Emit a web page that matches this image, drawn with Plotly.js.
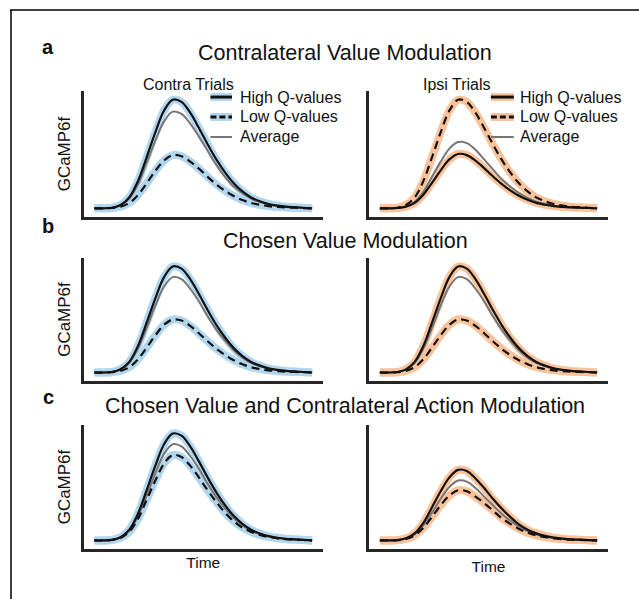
<!DOCTYPE html>
<html>
<head>
<meta charset="utf-8">
<script src="https://cdn.plot.ly/plotly-3.0.1.min.js"></script>
<style>html,body{margin:0;padding:0;background:#fff}#chart{width:639px;height:599px}</style>
</head>
<body>
<div id="chart"></div>
<script>
// ---- data (arbitrary units) ----
const t = [0,4,8,12,16,20,24,28,32,36,40,44,48,52,56,60,64,68,72,76,80,84,88,92,96,100];

// Row a: Contralateral Value Modulation
const aContraHigh = [0,0,0.005,0.03,0.1,0.25,0.47,0.7,0.9,1.0,0.98,0.88,0.74,0.59,0.45,0.33,0.23,0.155,0.1,0.065,0.04,0.025,0.015,0.01,0.005,0];
const aContraLow  = [0,0,0.003,0.015,0.049,0.122,0.23,0.345,0.44,0.49,0.48,0.43,0.365,0.29,0.22,0.162,0.113,0.076,0.049,0.032,0.02,0.012,0.007,0.005,0.002,0];
const aContraAvg  = [0,0,0.004,0.027,0.089,0.22,0.42,0.62,0.8,0.89,0.87,0.78,0.66,0.53,0.4,0.29,0.2,0.14,0.09,0.058,0.036,0.022,0.013,0.009,0.004,0];
const aIpsiHigh   = [0,0,0.003,0.015,0.05,0.125,0.235,0.35,0.45,0.5,0.49,0.44,0.37,0.295,0.225,0.165,0.115,0.078,0.05,0.033,0.02,0.013,0.008,0.005,0.003,0];
const aIpsiLow    = [0,0,0.005,0.03,0.1,0.25,0.47,0.7,0.9,1.0,0.98,0.88,0.74,0.59,0.45,0.33,0.23,0.155,0.1,0.065,0.04,0.025,0.015,0.01,0.005,0];
const aIpsiAvg    = [0,0,0.003,0.018,0.061,0.15,0.29,0.43,0.55,0.61,0.6,0.54,0.45,0.36,0.27,0.2,0.14,0.095,0.061,0.04,0.024,0.015,0.009,0.006,0.003,0];

// Row b: Chosen Value Modulation
const bContraHigh = [0,0,0.005,0.03,0.1,0.25,0.47,0.7,0.9,1.0,0.98,0.88,0.74,0.59,0.45,0.33,0.23,0.155,0.1,0.065,0.04,0.025,0.015,0.01,0.005,0];
const bContraLow  = [0,0,0.003,0.015,0.05,0.125,0.235,0.35,0.45,0.5,0.49,0.44,0.37,0.295,0.225,0.165,0.115,0.078,0.05,0.033,0.02,0.013,0.008,0.005,0.003,0];
const bContraAvg  = [0,0,0.005,0.027,0.09,0.225,0.42,0.63,0.81,0.9,0.88,0.79,0.67,0.53,0.405,0.3,0.21,0.14,0.09,0.06,0.036,0.023,0.014,0.009,0.005,0];
const bIpsiHigh   = [0,0,0.005,0.03,0.1,0.25,0.47,0.7,0.9,1.0,0.98,0.88,0.74,0.59,0.45,0.33,0.23,0.155,0.1,0.065,0.04,0.025,0.015,0.01,0.005,0];
const bIpsiLow    = [0,0,0.003,0.015,0.05,0.125,0.235,0.35,0.45,0.5,0.49,0.44,0.37,0.295,0.225,0.165,0.115,0.078,0.05,0.033,0.02,0.013,0.008,0.005,0.003,0];
const bIpsiAvg    = [0,0,0.005,0.027,0.09,0.225,0.42,0.63,0.81,0.9,0.88,0.79,0.67,0.53,0.405,0.3,0.21,0.14,0.09,0.06,0.036,0.023,0.014,0.009,0.005,0];

// Row c: Chosen Value and Contralateral Action Modulation
const cContraHigh = [0,0,0.005,0.03,0.1,0.25,0.47,0.7,0.9,1.0,0.98,0.88,0.74,0.59,0.45,0.33,0.23,0.155,0.1,0.065,0.04,0.025,0.015,0.01,0.005,0];
const cContraLow  = [0,0,0.004,0.024,0.08,0.2,0.38,0.56,0.72,0.8,0.78,0.7,0.59,0.47,0.36,0.26,0.18,0.12,0.08,0.052,0.032,0.02,0.012,0.008,0.004,0];
const cContraAvg  = [0,0,0.005,0.027,0.09,0.225,0.42,0.63,0.81,0.9,0.88,0.79,0.67,0.53,0.405,0.3,0.21,0.14,0.09,0.06,0.036,0.023,0.014,0.009,0.005,0];
const cIpsiHigh   = [0,0,0.003,0.02,0.066,0.165,0.31,0.46,0.59,0.66,0.65,0.58,0.49,0.39,0.3,0.22,0.15,0.1,0.066,0.043,0.026,0.017,0.01,0.007,0.003,0];
const cIpsiLow    = [0,0,0.002,0.014,0.047,0.118,0.22,0.33,0.42,0.47,0.46,0.41,0.35,0.28,0.21,0.155,0.108,0.073,0.047,0.031,0.019,0.012,0.007,0.005,0.002,0];
const cIpsiAvg    = [0,0,0.003,0.017,0.056,0.14,0.26,0.39,0.5,0.56,0.55,0.49,0.41,0.33,0.25,0.185,0.13,0.087,0.056,0.036,0.022,0.014,0.008,0.006,0.003,0];

const rowLetters = ['a','b','c'];
const rowTitles = ['Contralateral Value Modulation','Chosen Value Modulation','Chosen Value and Contralateral Action Modulation'];
const colTitles = ['Contra Trials','Ipsi Trials'];
const legendLabels = ['High Q-values','Low Q-values','Average'];
const yLabel = 'GCaMP6f';
const xLabel = 'Time';

// ---- styling / layout ----
const W = 639, H = 599;
const px = v => v / W;
const py = v => 1 - v / H;
const BLUE = '#b2d6ee', ORANGE = '#fbc39c', GRAY = '#767676', BLACK = '#111111';
const FONT = 'Liberation Sans, Arial, sans-serif';

const colDom = [[px(83.5), px(323)], [px(369), px(608)]];
const rowBox = [[91, 217], [258, 381], [425, 549]];

const panels = [
  [[aContraHigh, aContraLow, aContraAvg], [aIpsiHigh, aIpsiLow, aIpsiAvg]],
  [[bContraHigh, bContraLow, bContraAvg], [bIpsiHigh, bIpsiLow, bIpsiAvg]],
  [[cContraHigh, cContraLow, cContraAvg], [cIpsiHigh, cIpsiLow, cIpsiAvg]]
];

const traces = [];
const layout = {
  width: W, height: H,
  margin: {l: 0, r: 0, t: 0, b: 0},
  paper_bgcolor: '#fff', plot_bgcolor: 'rgba(0,0,0,0)',
  showlegend: false,
  font: {family: FONT, color: '#111'},
  shapes: [], annotations: []
};

let k = 0;
for (let r = 0; r < 3; r++) {
  for (let c = 0; c < 2; c++) {
    k++;
    const xa = 'x' + (k === 1 ? '' : k), ya = 'y' + (k === 1 ? '' : k);
    const xKey = 'xaxis' + (k === 1 ? '' : k), yKey = 'yaxis' + (k === 1 ? '' : k);
    const band = c === 0 ? BLUE : ORANGE;
    const [hi, lo, avg] = panels[r][c];
    const common = {x: t, xaxis: xa, yaxis: ya, mode: 'lines', hoverinfo: 'skip'};
    traces.push(Object.assign({}, common, {y: hi, line: {shape: 'spline', color: band, width: 8}}));
    traces.push(Object.assign({}, common, {y: lo, line: {shape: 'spline', color: band, width: 8}}));
    traces.push(Object.assign({}, common, {y: avg, line: {shape: 'spline', color: GRAY, width: 2}}));
    traces.push(Object.assign({}, common, {y: hi, line: {shape: 'spline', color: BLACK, width: 2.2}}));
    traces.push(Object.assign({}, common, {y: lo, line: {shape: 'spline', color: BLACK, width: 2.2, dash: '8px,5px'}}));

    layout[xKey] = {
      domain: colDom[c], anchor: ya, range: [-5, 105],
      showline: true, linecolor: '#262626', linewidth: 3,
      showgrid: false, zeroline: false, showticklabels: false, ticks: '',
      fixedrange: true
    };
    layout[yKey] = {
      domain: [py(rowBox[r][1]), py(rowBox[r][0])], anchor: xa, range: [-0.08, 1.08],
      showline: true, linecolor: '#262626', linewidth: 3,
      showgrid: false, zeroline: false, showticklabels: false, ticks: '',
      fixedrange: true
    };
    if (c === 0) {
      layout[yKey].title = {text: yLabel, font: {size: 17, family: FONT, color: '#111'}, standoff: 6};
    }
    if (r === 2) {
      layout[xKey].title = {text: xLabel, font: {size: 15.5, family: FONT, color: '#111'}, standoff: c === 0 ? 7 : 11};
    }
    // legend (row a only)
    if (r === 0) {
      const lx0 = c === 0 ? 0.53 : 0.51, lx1 = c === 0 ? 0.62 : 0.606, tx = c === 0 ? 0.645 : 0.625;
      const ly = [0.952, 0.794, 0.635];
      const xd = xa + ' domain', yd = ya + ' domain';
      for (let i = 0; i < 3; i++) {
        if (i < 2) {
          layout.shapes.push({type: 'line', xref: xd, yref: yd, x0: lx0, x1: lx1, y0: ly[i], y1: ly[i], line: {color: band, width: 8}});
          layout.shapes.push({type: 'line', xref: xd, yref: yd, x0: lx0, x1: lx1, y0: ly[i], y1: ly[i], line: {color: BLACK, width: 3, dash: i === 1 ? '6px,3px' : 'solid'}});
        } else {
          layout.shapes.push({type: 'line', xref: xd, yref: yd, x0: lx0, x1: lx1, y0: ly[i], y1: ly[i], line: {color: GRAY, width: 2}});
        }
        layout.annotations.push({xref: xd, yref: yd, x: tx, y: ly[i], text: legendLabels[i], showarrow: false,
          xanchor: 'left', yanchor: 'middle', font: {size: 16, family: FONT, color: '#111'}});
      }
    }
  }
  // row letters and titles
  const letterY = [47, 226, 397][r];
  const titleY = [53, 241, 406][r];
  layout.annotations.push({xref: 'paper', yref: 'paper', x: px(48), y: py(letterY), text: '<b>' + rowLetters[r] + '</b>',
    showarrow: false, xanchor: 'center', yanchor: 'middle', font: {size: 20, family: FONT, color: '#111'}});
  layout.annotations.push({xref: 'paper', yref: 'paper', x: px(345), y: py(titleY), text: rowTitles[r],
    showarrow: false, xanchor: 'center', yanchor: 'middle', font: {size: 21.5, family: FONT, color: '#111'}});
}
// column titles
layout.annotations.push({xref: 'paper', yref: 'paper', x: px(188), y: py(84), text: colTitles[0], showarrow: false,
  xanchor: 'center', yanchor: 'middle', font: {size: 16, family: FONT, color: '#111'}});
layout.annotations.push({xref: 'paper', yref: 'paper', x: px(457), y: py(84), text: colTitles[1], showarrow: false,
  xanchor: 'center', yanchor: 'middle', font: {size: 16, family: FONT, color: '#111'}});

// figure frame (top and left edges)
layout.shapes.push({type: 'line', xref: 'paper', yref: 'paper', x0: px(10), x1: 1, y0: py(10), y1: py(10), line: {color: '#000', width: 1.5}});
layout.shapes.push({type: 'line', xref: 'paper', yref: 'paper', x0: px(11), x1: px(11), y0: py(10), y1: 0, line: {color: '#000', width: 1.5}});

Plotly.newPlot('chart', traces, layout, {staticPlot: true, displayModeBar: false});
</script>
</body>
</html>
